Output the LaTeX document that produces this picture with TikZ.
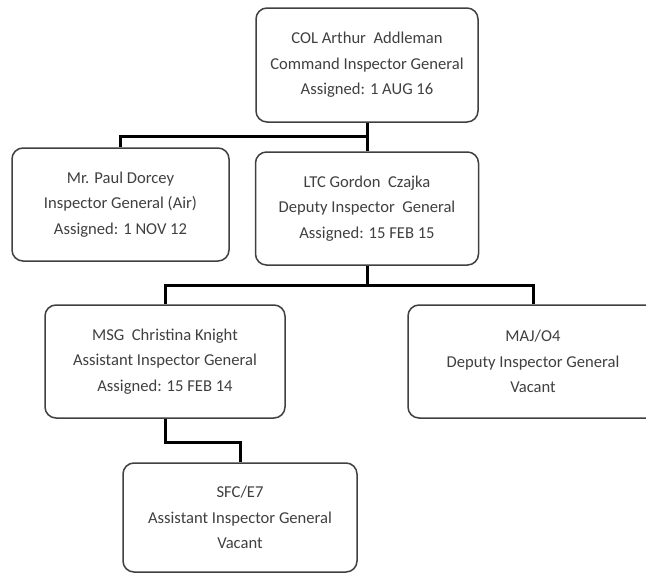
\documentclass[tikz,border=0pt]{standalone}
\usepackage{fontspec}
\setmainfont{Carlito}
\begin{document}
\begin{tikzpicture}[x=1pt,y=-1pt,
  box/.style={draw=black!75, line width=1.5pt, rounded corners=11pt, fill=white,
    align=center, text=black!75, font=\fontsize{16.6}{25.5}\selectfont,
    inner sep=0pt, anchor=center},
  conn/.style={draw=black, line width=3pt}]
\clip (0,0) rectangle (646,574);
\fill[white] (0,0) rectangle (646,574);
\node[box, minimum width=222pt, minimum height=114pt] (top) at (367,65)
  {COL Arthur\ \ Addleman\\Command Inspector General\\Assigned: 1 AUG 16};
\node[box, minimum width=217pt, minimum height=113pt] (paul) at (120.5,204.5)
  {Mr. Paul Dorcey\\Inspector General (Air)\\Assigned: 1 NOV 12};
\node[box, minimum width=223pt, minimum height=113pt] (ltc) at (367,208.5)
  {LTC Gordon\ \ Czajka\\Deputy Inspector\ \ General\\Assigned: 15 FEB 15};
\node[box, minimum width=240pt, minimum height=113pt] (msg) at (165,361.5)
  {MSG\ \ Christina Knight\\Assistant Inspector General\\Assigned: 15 FEB 14};
\node[box, minimum width=250pt, minimum height=113pt] (maj) at (533,361.5)
  {MAJ/O4\\Deputy Inspector General\\Vacant};
\node[box, minimum width=234pt, minimum height=109pt] (sfc) at (240,517.5)
  {SFC/E7\\Assistant Inspector General\\Vacant};
\coordinate (bus1) at (0,136);
\coordinate (bus2) at (0,285);
\coordinate (bus3) at (0,442);
\draw[conn] (top.south) -- (top.south |- bus1) -| (paul.north);
\draw[conn] (top.south) -- (ltc.north);
\draw[conn] (ltc.south) -- (ltc.south |- bus2) -| (msg.north);
\draw[conn] (ltc.south |- bus2) -| (maj.north);
\draw[conn] (msg.south) -- (msg.south |- bus3) -| (sfc.north);
\end{tikzpicture}
\end{document}
